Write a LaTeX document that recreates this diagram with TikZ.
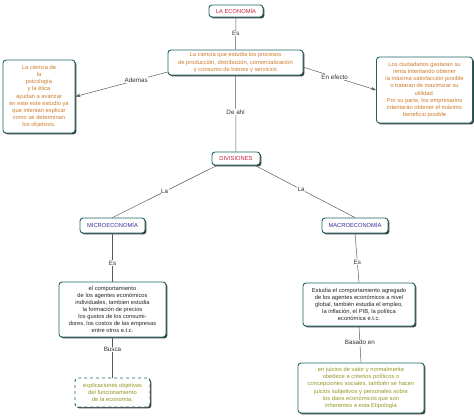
\documentclass[tikz,border=0pt]{standalone}
\usepackage{fontspec}
\setmainfont{Liberation Sans}
\usetikzlibrary{shadows,arrows.meta}
\definecolor{bord}{RGB}{30,100,100}
\definecolor{redt}{RGB}{200,30,60}
\definecolor{bluet}{RGB}{55,45,150}
\definecolor{orat}{RGB}{205,125,45}
\definecolor{olit}{RGB}{150,150,40}
\definecolor{linec}{RGB}{90,90,90}
\definecolor{lblc}{RGB}{50,50,50}
\begin{document}
\begin{tikzpicture}[x=1bp,y=-1bp,
  box/.style={draw=bord,line width=0.9pt,fill=white,rounded corners=3pt,align=center,inner sep=1pt,
    font=\fontsize{5.8}{7.1}\selectfont,
    drop shadow={shadow xshift=1.4pt,shadow yshift=-1.4pt,fill=black!75,opacity=1}},
  conn/.style={draw=linec,line width=0.5pt},
  arr/.style={conn,-{Stealth[length=5pt,width=3.5pt]},draw=linec},
  lbl/.style={fill=white,inner sep=0.6pt,text=lblc,font=\fontsize{6.3}{7}\selectfont}
]
\useasboundingbox (0,0) rectangle (474,417);
\node[box,text=redt,minimum width=54bp,minimum height=12bp] (econ) at (236,11) {LA ECONOMÍA};
\node[box,text=orat,minimum width=135bp,minimum height=25bp] (def) at (235.5,62.5) {La ciencia que estudia los procesos\\de producción, distribución, comercialización\\y consumo de bienes y servicios};
\node[box,text=orat,minimum width=72bp,minimum height=73bp] (left) at (39,96.5) {La ciencia de\\la\\psicología\\y la ética\\ayudan a avanzar\\en este este estudio ya\\que intentan explicar\\como se determinan\\los objetivos.};
\node[box,text=orat,minimum width=96bp,minimum height=66bp] (right) at (424.5,90) {Los ciudadanos gastaran su\\renta intentando obtener\\la máxima satisfacción posible\\o trataran de maximizar su\\utilidad.\\Por su parte, los empresarios\\intentarán obtener el máximo\\beneficio posible};
\node[box,text=redt,minimum width=48bp,minimum height=13bp] (div) at (236,158.5) {DIVISIONES};
\node[box,text=bluet,minimum width=65bp,minimum height=15bp] (micro) at (112.5,225.5) {MICROECONOMÍA};
\node[box,text=bluet,minimum width=66bp,minimum height=15bp] (macro) at (355,225.5) {MACROECONOMÍA};
\node[box,text=black!85,minimum width=107bp,minimum height=55bp] (mdesc) at (112.5,309.5) {el comportamiento\\de los agentes económicos\\individuales, tambien estudia\\la formación de precios\\los gustos de los consumi-\\dores, los costos de las empresas\\entre otros e.t.c.};
\node[box,text=olit,dashed,minimum width=75bp,minimum height=29bp] (busca) at (112.5,392.5) {explicaciones objetivas\\del funcionamiento\\de la economía.};
\node[box,text=black!85,minimum width=112bp,minimum height=43bp] (Mdesc) at (359,304.5) {Estudia el comportamiento agregado\\de los agentes económicos a nivel\\global, también estudia el empleo,\\la inflación, el PIB, la política\\económica e.t.c.};
\node[box,text=olit,minimum width=126bp,minimum height=50bp] (basado) at (361,388) {en juicios de valor y normalmente\\obedece a criterios políticos o\\concepciones sociales, también se hacen\\juicios subjetivos y personales sobre\\los daos económicos que son\\inherentes a esta Etipología};

\path[conn] (econ.south) -- node[lbl]{Es} (def.north);
\path[arr] (def.188) -- node[lbl,pos=0.34]{Ademas} (left.east);
\path[arr] (def.-4) -- node[lbl,pos=0.43]{En efecto} (right.west);
\path[conn] (def.south) -- node[lbl,pos=0.48]{De ahí} (div.north);
\path[conn] (div.200) -- node[lbl,pos=0.5]{La} (micro.north);
\path[conn] (div.-20) -- node[lbl,pos=0.46]{La} (macro.north);
\path[conn] (micro.south) -- node[lbl,pos=0.62]{Es} (mdesc.north);
\path[conn] (mdesc.south) -- node[lbl,pos=0.3]{Busca} (busca.north);
\path[conn] (macro.south) -- node[lbl,pos=0.58]{Es} (Mdesc.north);
\path[conn] (Mdesc.south) -- node[lbl,pos=0.45]{Basado en} (basado.north);
\end{tikzpicture}
\end{document}
